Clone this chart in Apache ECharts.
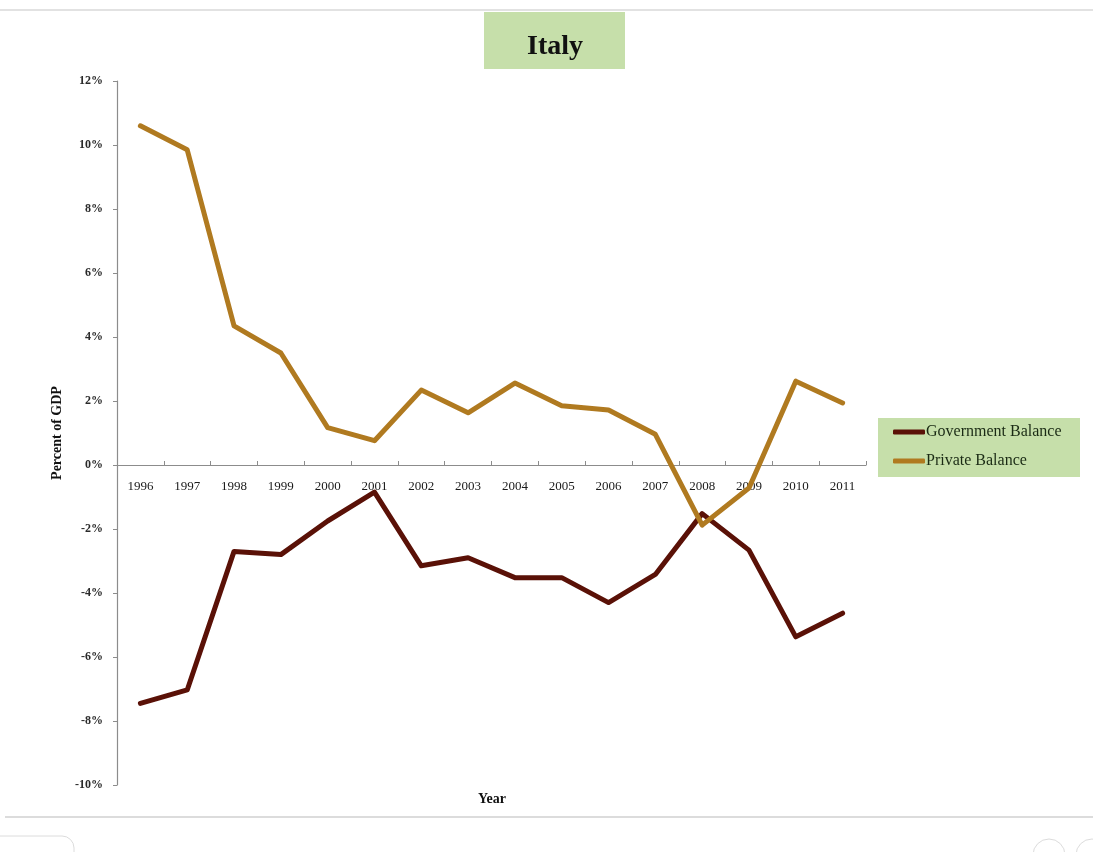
<!DOCTYPE html>
<html>
<head>
<meta charset="utf-8">
<style>
html,body{margin:0;padding:0;background:#fff;}
#chart{width:1093px;height:852px;}
</style>
<script src="https://cdn.jsdelivr.net/npm/echarts@6/dist/echarts.min.js"></script>
</head>
<body>
<div id="chart"></div>
<script>
const years = ['1996','1997','1998','1999','2000','2001','2002','2003','2004','2005','2006','2007','2008','2009','2010','2011'];
const governmentBalance = [-7.45, -7.03, -2.7, -2.8, -1.75, -0.85, -3.15, -2.9, -3.52, -3.52, -4.3, -3.42, -1.52, -2.66, -5.37, -4.63];
const privateBalance = [10.6, 9.85, 4.35, 3.5, 1.17, 0.76, 2.34, 1.63, 2.56, 1.85, 1.72, 0.96, -1.88, -0.72, 2.62, 1.94];
const yTicks = {min: -10, max: 12, step: 2};

const serif = '"Liberation Serif", "DejaVu Serif", serif';
const chart = echarts.init(document.getElementById('chart'));
chart.setOption({
  backgroundColor: '#ffffff',
  animation: false,
  title: {
    text: 'Italy',
    left: 484,
    top: 12,
    padding: [21, 42, 8, 43],
    backgroundColor: '#c6dfaa',
    textStyle: {fontFamily: serif, fontSize: 28, fontWeight: 'bold', color: '#111'}
  },
  graphic: [
    {type: 'line', shape: {x1: 0, y1: 10, x2: 1093, y2: 10}, style: {stroke: '#d9d9d9', lineWidth: 1.5}, z: 0},
    {type: 'line', shape: {x1: 5, y1: 817, x2: 1093, y2: 817}, style: {stroke: '#d0d0d0', lineWidth: 1.5}, z: 0},
    {type: 'rect', shape: {x: -12, y: 836, width: 86, height: 40, r: 12}, style: {fill: '#fff', stroke: '#dcdcdc', lineWidth: 1}, z: 0},
    {type: 'circle', shape: {cx: 1049, cy: 855, r: 16}, style: {fill: '#fff', stroke: '#dcdcdc', lineWidth: 1}, z: 0},
    {type: 'circle', shape: {cx: 1092, cy: 855, r: 16}, style: {fill: '#fff', stroke: '#dcdcdc', lineWidth: 1}, z: 0},
    {type: 'rect', shape: {x: 878, y: 418, width: 202, height: 59}, style: {fill: '#c6dfaa'}, z: 0},
    {type: 'text', left: 478, top: 792, style: {text: 'Year', fontFamily: serif, fontSize: 14, fontWeight: 'bold', fill: '#111'}, z: 5}
  ],
  legend: {
    orient: 'vertical',
    left: 878,
    top: 418,
    padding: [6, 15, 8, 15],
    itemGap: 13,
    itemWidth: 32,
    itemHeight: 5,
    icon: 'roundRect',
    textStyle: {fontFamily: serif, fontSize: 16, color: '#1a2a14', padding: [0, 0, 0, -4]},
    data: ['Government Balance', 'Private Balance']
  },
  grid: {left: 117, right: 227, top: 81, bottom: 67, containLabel: false},
  xAxis: {
    type: 'category',
    data: years,
    boundaryGap: true,
    position: 'bottom',
    offset: -320,
    axisLine: {onZero: false, lineStyle: {color: '#8c8c8c', width: 1.2}},
    axisTick: {show: true, inside: true, length: 4, alignWithLabel: false, lineStyle: {color: '#8c8c8c'}},
    axisLabel: {fontFamily: serif, fontSize: 13, color: '#1a1a1a', margin: 15, interval: 0},
    splitLine: {show: false}
  },
  yAxis: {
    type: 'value',
    min: yTicks.min,
    max: yTicks.max,
    interval: yTicks.step,
    name: 'Percent of GDP',
    nameLocation: 'middle',
    nameGap: 52,
    nameRotate: 90,
    nameTextStyle: {fontFamily: serif, fontSize: 14, fontWeight: 'bold', color: '#111'},
    axisLine: {show: true, lineStyle: {color: '#8c8c8c', width: 1.2}},
    axisTick: {show: true, length: 4, lineStyle: {color: '#8c8c8c'}},
    axisLabel: {fontFamily: serif, fontSize: 12, fontWeight: 'bold', color: '#2a2a2a', margin: 14, formatter: v => v + '%'},
    splitLine: {show: false}
  },
  series: [
    {
      name: 'Government Balance',
      type: 'line',
      data: governmentBalance,
      symbol: 'none',
      color: '#5a1107',
      lineStyle: {width: 5, color: '#5a1107', cap: 'round', join: 'round'},
      z: 3
    },
    {
      name: 'Private Balance',
      type: 'line',
      data: privateBalance,
      symbol: 'none',
      color: '#b07a20',
      lineStyle: {width: 5, color: '#b07a20', cap: 'round', join: 'round'},
      z: 4
    }
  ]
});
</script>
</body>
</html>
